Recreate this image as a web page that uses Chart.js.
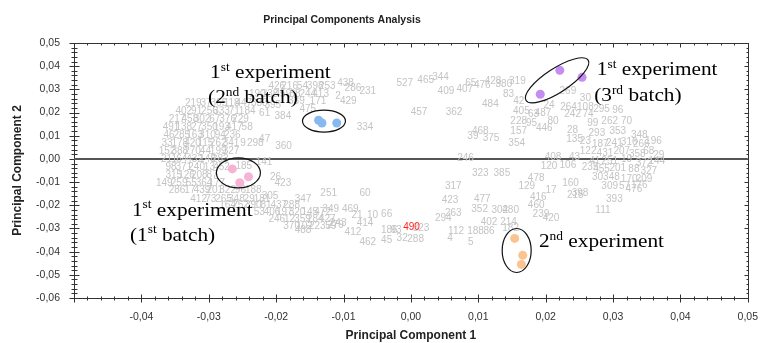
<!DOCTYPE html>
<html>
<head>
<meta charset="utf-8">
<script src="https://cdn.jsdelivr.net/npm/chart.js@4"></script>
<style>
  body { margin: 0; background: #fff; }
</style>
</head>
<body>
<canvas id="pcaChart" width="771" height="343"></canvas>
<script>
// gray sample labels (id, PC1, PC2)
const labelIds = [
  // left cloud
  219, 37, 365, 118, 447, 402, 91, 256, 333, 71, 184,
  217, 458, 302, 67, 376, 229, 491, 138, 27, 350, 193, 417, 58,
  46, 285, 163, 310, 94, 236, 33, 178, 420, 115, 262, 341, 9,
  152, 388, 270, 44, 199, 327, 211, 64, 432, 148, 283, 141,
  98, 371, 240, 13, 452, 315, 126, 208, 87, 185,
  149, 259, 55, 364, 177, 286, 17, 439, 201, 322, 96, 188,
  412, 73, 265, 348, 29, 181, 164, 252, 390, 81, 437, 288,
  53, 406, 197, 320, 145, 472, 246, 12, 359, 284, 427, 370, 102, 223, 59,
  // upper band
  426, 216, 54, 398, 253, 190, 338, 459, 88, 244, 413, 330, 395, 61, 339, 475,
  // middle
  360, 298, 47, 384, 171, 429, 2, 438, 286, 231, 334, 305, 26, 423,
  347, 251, 60, 349, 469, 279, 412, 21, 10, 66, 414, 462, 45, 186, 488, 243,
  93, 323, 32, 288,
  // upper right
  527, 465, 344, 409, 407, 457, 362, 65, 476, 428, 380, 319, 83, 484,
  39, 468, 375, 354, 157, 228, 95, 446, 80, 487, 405, 63, 42, 24,
  269, 30, 264, 108, 242, 74, 295, 96, 262, 70, 99, 28, 135, 293, 353,
  // lower right
  246, 323, 385, 317, 423, 477, 352, 478, 129, 120, 106, 160, 17, 215, 416, 398,
  111, 393, 476, 29, 302, 480, 460, 239, 420, 402, 214, 182, 294, 263, 112, 188,
  86, 4, 5, 408, 43,
  // right cloud
  187, 241, 316, 266, 122, 431, 207, 358, 68, 41, 251, 19, 372, 144,
  235, 455, 201, 88, 327, 303, 48, 170, 209, 309, 57, 176, 23, 348, 196
];
const labelX = [
  -0.0323, -0.0304, -0.0285, -0.0266, -0.0248, -0.0337, -0.0318, -0.0299, -0.0281, -0.0262, -0.0243,
  -0.0347, -0.0328, -0.0310, -0.0291, -0.0272, -0.0253, -0.0356, -0.0337, -0.0318, -0.0299, -0.0281, -0.0262, -0.0243,
  -0.0359, -0.0340, -0.0321, -0.0302, -0.0283, -0.0265, -0.0362, -0.0343, -0.0324, -0.0305, -0.0286, -0.0267, -0.0249,
  -0.0362, -0.0343, -0.0324, -0.0305, -0.0286, -0.0267, -0.0359, -0.0340, -0.0321, -0.0302, -0.0283, -0.0218,
  -0.0356, -0.0337, -0.0318, -0.0299, -0.0281, -0.0352, -0.0333, -0.0314, -0.0295, -0.0248,
  -0.0366, -0.0344, -0.0326, -0.0307, -0.0288, -0.0347, -0.0328, -0.0310, -0.0291, -0.0272, -0.0253, -0.0234,
  -0.0315, -0.0297, -0.0278, -0.0259, -0.0240, -0.0221, -0.0272, -0.0253, -0.0234, -0.0215, -0.0196, -0.0177,
  -0.0225, -0.0206, -0.0188, -0.0169, -0.0150, -0.0131, -0.0199, -0.0180, -0.0161, -0.0142, -0.0124, -0.0177, -0.0158, -0.0139, -0.0119,
  -0.0199, -0.0180, -0.0161, -0.0142, -0.0124, -0.0228, -0.0209, -0.0190, -0.0172, -0.0153, -0.0134, -0.0225, -0.0205, -0.0217, -0.0170, -0.0153,
  -0.0189, -0.0231, -0.0217, -0.0190, -0.0138, -0.0093, -0.0108, -0.0097, -0.0086, -0.0064, -0.0068, -0.0209, -0.0201, -0.0190,
  -0.0160, -0.0122, -0.0068, -0.0119, -0.0090, -0.0112, -0.0086, -0.0080, -0.0057, -0.0036, -0.0068, -0.0064, -0.0036, -0.0032, -0.0160, -0.0108,
  -0.0022, 0.0015, -0.0013, 0.0007,
  -0.0009, 0.0022, 0.0044, 0.0052, 0.0080, 0.0012, 0.0064, 0.0089, 0.0106, 0.0122, 0.0138, 0.0158, 0.0145, 0.0118,
  0.0092, 0.0103, 0.0119, 0.0157, 0.0160, 0.0160, 0.0179, 0.0198, 0.0211, 0.0196, 0.0164, 0.0182, 0.0160, 0.0205,
  0.0233, 0.0259, 0.0234, 0.0259, 0.0240, 0.0263, 0.0283, 0.0307, 0.0295, 0.0320, 0.0270, 0.0240, 0.0243, 0.0276, 0.0307,
  0.0081, 0.0103, 0.0135, 0.0063, 0.0058, 0.0106, 0.0102, 0.0186, 0.0172, 0.0205, 0.0233, 0.0237, 0.0208, 0.0244, 0.0189, 0.0251,
  0.0285, 0.0302, 0.0331, 0.0368, 0.0132, 0.0148, 0.0186, 0.0193, 0.0208, 0.0116, 0.0145, 0.0148, 0.0048, 0.0063, 0.0067, 0.0096,
  0.0116, 0.0058, 0.0089, 0.0211, 0.0243,
  0.0281, 0.0302, 0.0324, 0.0342, 0.0263, 0.0288, 0.0313, 0.0336, 0.0353, 0.0273, 0.0295, 0.0320, 0.0346, 0.0365,
  0.0266, 0.0283, 0.0307, 0.0331, 0.0353, 0.0281, 0.0302, 0.0324, 0.0346, 0.0295, 0.0317, 0.0339, 0.0259, 0.0339, 0.0360
];
const labelY = [
  0.0240, 0.0240, 0.0240, 0.0240, 0.0240, 0.0206, 0.0206, 0.0206, 0.0206, 0.0206, 0.0206,
  0.0172, 0.0172, 0.0172, 0.0172, 0.0172, 0.0172, 0.0137, 0.0137, 0.0137, 0.0137, 0.0137, 0.0137, 0.0137,
  0.0103, 0.0103, 0.0103, 0.0103, 0.0103, 0.0103, 0.0069, 0.0069, 0.0069, 0.0069, 0.0069, 0.0069, 0.0069,
  0.0034, 0.0034, 0.0034, 0.0034, 0.0034, 0.0034, 0.0000, 0.0000, 0.0000, 0.0000, 0.0000, -0.0013,
  -0.0034, -0.0034, -0.0034, -0.0034, -0.0034, -0.0069, -0.0069, -0.0069, -0.0069, -0.0030,
  -0.0103, -0.0103, -0.0103, -0.0103, -0.0103, -0.0137, -0.0137, -0.0137, -0.0137, -0.0137, -0.0137, -0.0137,
  -0.0172, -0.0172, -0.0172, -0.0172, -0.0172, -0.0172, -0.0202, -0.0202, -0.0202, -0.0202, -0.0202, -0.0202,
  -0.0232, -0.0232, -0.0232, -0.0232, -0.0232, -0.0232, -0.0262, -0.0262, -0.0262, -0.0262, -0.0262, -0.0292, -0.0292, -0.0292, -0.0292,
  0.0313, 0.0313, 0.0313, 0.0313, 0.0313, 0.0279, 0.0279, 0.0279, 0.0279, 0.0279, 0.0279, 0.0240, 0.0232, 0.0197, 0.0249, 0.0215,
  0.0056, 0.0066, 0.0086, 0.0185, 0.0249, 0.0249, 0.0270, 0.0326, 0.0305, 0.0292, 0.0137, -0.0159, -0.0077, -0.0107,
  -0.0172, -0.0150, -0.0146, -0.0219, -0.0219, -0.0288, -0.0318, -0.0245, -0.0245, -0.0240, -0.0279, -0.0361, -0.0352, -0.0309, -0.0309, -0.0279,
  -0.0309, -0.0300, -0.0343, -0.0348,
  0.0326, 0.0339, 0.0352, 0.0292, 0.0300, 0.0202, 0.0202, 0.0326, 0.0318, 0.0335, 0.0322, 0.0335, 0.0279, 0.0236,
  0.0099, 0.0120, 0.0090, 0.0069, 0.0120, 0.0163, 0.0155, 0.0133, 0.0163, 0.0197, 0.0206, 0.0193, 0.0249, 0.0232,
  0.0292, 0.0262, 0.0223, 0.0223, 0.0193, 0.0193, 0.0215, 0.0210, 0.0163, 0.0163, 0.0155, 0.0124, 0.0086, 0.0112, 0.0120,
  0.0004, -0.0064, -0.0064, -0.0116, -0.0180, -0.0176, -0.0219, -0.0082, -0.0116, -0.0030, -0.0026, -0.0107, -0.0137, -0.0155, -0.0167, -0.0150,
  -0.0223, -0.0172, -0.0129, 0.0017, -0.0223, -0.0223, -0.0202, -0.0240, -0.0258, -0.0275, -0.0275, -0.0300, -0.0258, -0.0236, -0.0313, -0.0313,
  -0.0313, -0.0343, -0.0361, 0.0009, 0.0009,
  0.0064, 0.0069, 0.0073, 0.0064, 0.0034, 0.0026, 0.0034, 0.0021, 0.0034, -0.0009, -0.0009, 0.0000, -0.0017, -0.0009,
  -0.0034, -0.0043, -0.0039, -0.0043, -0.0052, -0.0077, -0.0077, -0.0086, -0.0086, -0.0116, -0.0120, -0.0112, 0.0077, 0.0103, 0.0077
];

// highlighted sample
const redId = 490;
const redX = 0.0001;
const redY = -0.0296;

// experiment points
const batch1X = [-0.0265, -0.0241, -0.0254];
const batch1Y = [-0.0043, -0.0077, -0.0103];
const batch2X = [-0.0137, -0.0132, -0.0110];
const batch2Y = [0.0167, 0.0155, 0.0155];
const batch3X = [0.0192, 0.0221, 0.0254];
const batch3Y = [0.0279, 0.0382, 0.0352];
const exp2X = [0.0154, 0.0166, 0.0164];
const exp2Y = [-0.0343, -0.0416, -0.0455];

const xTicks = { min: -0.05, max: 0.05, step: 0.01 };
const yTicks = { min: -0.06, max: 0.05, step: 0.01 };

const toPoints = (xs, ys) => xs.map((v, i) => ({ x: v, y: ys[i] }));

// ellipses round the groups (center in data units, radii in px)
const ellipses = [
  { x: -0.0256, y: -0.0060, rx: 22, ry: 15, rot: 0 },
  { x: -0.0129, y: 0.0163, rx: 21.5, ry: 11, rot: 0 },
  { x: 0.0217, y: 0.0339, rx: 37, ry: 12, rot: -33 },
  { x: 0.0157, y: -0.0395, rx: 14.5, ry: 22, rot: 0 }
];

// hand written notes, [text, superscript?]
const notes = [
  { x: -0.0298, y: 0.0348, parts: [['1'], ['st', 1], [' experiment']] },
  { x: -0.0301, y: 0.0240, parts: [['(2'], ['nd', 1], [' batch)']] },
  { x: 0.0276, y: 0.0361, parts: [['1'], ['st', 1], [' experiment']] },
  { x: 0.0272, y: 0.0249, parts: [['(3'], ['rd', 1], [' batch)']] },
  { x: -0.0414, y: -0.0245, parts: [['1'], ['st', 1], [' experiment']] },
  { x: -0.0417, y: -0.0352, parts: [['(1'], ['st', 1], [' batch)']] },
  { x: 0.0190, y: -0.0382, parts: [['2'], ['nd', 1], [' experiment']] }
];

const sans = "'Liberation Sans', Arial, sans-serif";

const fmt = v => v.toFixed(2).replace('.', ',').replace('-0,00', '0,00');

const backdrop = {
  id: 'backdrop',
  beforeDatasetsDraw(chart) {
    const { ctx, chartArea: a, scales: { x, y } } = chart;
    ctx.save();
    // frame
    ctx.strokeStyle = '#333';
    ctx.lineWidth = 1;
    ctx.strokeRect(Math.round(a.left) + 0.5, Math.round(a.top) + 0.5,
      Math.round(a.right - a.left), Math.round(a.bottom - a.top));

    // tick marks, minor every 0.002
    ctx.beginPath();
    for (let i = -25; i <= 25; i++) {
      const px = Math.round(x.getPixelForValue(i * 0.002)) + 0.5;
      const big = i % 5 === 0;
      const b = Math.round(a.bottom) + 0.5, t = Math.round(a.top) + 0.5;
      ctx.moveTo(px, b - (big ? 4 : 2)); ctx.lineTo(px, b + (big ? 4 : 2));
      ctx.moveTo(px, t); ctx.lineTo(px, t + (big ? 4 : 2));
    }
    for (let i = -30; i <= 25; i++) {
      const py = Math.round(y.getPixelForValue(i * 0.002)) + 0.5;
      const big = i % 5 === 0;
      const l = Math.round(a.left) + 0.5, r = Math.round(a.right) + 0.5;
      ctx.moveTo(l - (big ? 5 : 3), py); ctx.lineTo(l + (big ? 5 : 3), py);
      ctx.moveTo(r - (big ? 4 : 2), py); ctx.lineTo(r, py);
    }
    ctx.stroke();

    // zero line
    const y0 = y.getPixelForValue(0);
    ctx.strokeStyle = '#555';
    ctx.lineWidth = 2;
    ctx.beginPath();
    ctx.moveTo(a.left, y0); ctx.lineTo(a.right, y0);
    ctx.stroke();

    // sample numbers
    ctx.font = '10px ' + sans;
    ctx.textAlign = 'center';
    ctx.textBaseline = 'middle';
    ctx.fillStyle = '#c4c4c4';
    chart.getDatasetMeta(0).data.forEach((el, i) => {
      ctx.fillText(String(labelIds[i]), el.x, el.y);
    });
    ctx.fillStyle = '#ff2020';
    chart.getDatasetMeta(1).data.forEach(el => {
      ctx.fillText(String(redId), el.x, el.y);
    });
    ctx.restore();
  },
  afterDatasetsDraw(chart) {
    const { ctx, scales: { x, y } } = chart;
    ctx.save();
    ctx.strokeStyle = '#111';
    ctx.lineWidth = 1.2;
    ellipses.forEach(e => {
      ctx.beginPath();
      ctx.ellipse(x.getPixelForValue(e.x), y.getPixelForValue(e.y), e.rx, e.ry,
        e.rot * Math.PI / 180, 0, Math.PI * 2);
      ctx.stroke();
    });

    const fs = 19;
    ctx.fillStyle = '#000';
    ctx.textBaseline = 'alphabetic';
    ctx.textAlign = 'left';
    notes.forEach(n => {
      ctx.save();
      ctx.translate(x.getPixelForValue(n.x), y.getPixelForValue(n.y));
      ctx.scale(1.12, 1);
      let cx = 0;
      n.parts.forEach(([t, sup]) => {
        const size = sup ? Math.round(fs * 0.62) : fs;
        ctx.font = size + "px 'Liberation Serif', 'Times New Roman', serif";
        ctx.fillText(t, cx, sup ? -fs * 0.38 : 0);
        cx += ctx.measureText(t).width;
      });
      ctx.restore();
    });

    // chart title, sits left of the plot centre in the original
    ctx.font = 'bold 10.5px ' + sans;
    ctx.fillStyle = '#222';
    ctx.textAlign = 'center';
    ctx.textBaseline = 'middle';
    ctx.fillText('Principal Components Analysis', 342, 20);
    ctx.restore();
  }
};

const dot = (xs, ys, color) => ({
  data: toPoints(xs, ys),
  pointRadius: 4.5,
  pointBackgroundColor: color,
  pointBorderColor: color,
  pointBorderWidth: 0,
  showLine: false
});

new Chart(document.getElementById('pcaChart'), {
  type: 'scatter',
  data: {
    datasets: [
      { data: toPoints(labelX, labelY), pointRadius: 0 },
      { data: [{ x: redX, y: redY }], pointRadius: 0 },
      dot(batch1X, batch1Y, '#f7b2d6'),
      dot(batch2X, batch2Y, '#86b9f0'),
      dot(batch3X, batch3Y, '#c58cf2'),
      dot(exp2X, exp2Y, '#fbc48e')
    ]
  },
  options: {
    responsive: false,
    animation: false,
    layout: { padding: { top: 43, left: 0, right: 0, bottom: 0 } },
    plugins: {
      legend: { display: false },
      tooltip: { enabled: false },
      title: { display: false }
    },
    scales: {
      x: {
        type: 'linear',
        min: xTicks.min,
        max: xTicks.max,
        afterFit: s => { s.height = 45; },
        grid: { display: false, drawTicks: false },
        border: { display: false },
        ticks: {
          stepSize: xTicks.step,
          padding: 13,
          color: '#333',
          font: { family: sans, size: 10.5 },
          maxRotation: 0,
          callback: v => Math.abs(v - xTicks.min) < 1e-6 ? '' : fmt(v)
        },
        title: {
          display: true,
          text: 'Principal Component 1',
          color: '#222',
          font: { family: sans, size: 12, weight: 'bold' },
          padding: { top: 0, bottom: 0 }
        }
      },
      y: {
        type: 'linear',
        min: yTicks.min,
        max: yTicks.max,
        afterFit: s => { s.width = 74; },
        grid: { display: false, drawTicks: false },
        border: { display: false },
        ticks: {
          stepSize: yTicks.step,
          padding: 14,
          color: '#333',
          font: { family: sans, size: 10.5 },
          callback: v => fmt(v)
        },
        title: {
          display: true,
          text: 'Principal Component 2',
          color: '#222',
          font: { family: sans, size: 12, weight: 'bold' },
          padding: { top: 10, bottom: 0 }
        }
      }
    }
  },
  plugins: [backdrop]
});
</script>
</body>
</html>
